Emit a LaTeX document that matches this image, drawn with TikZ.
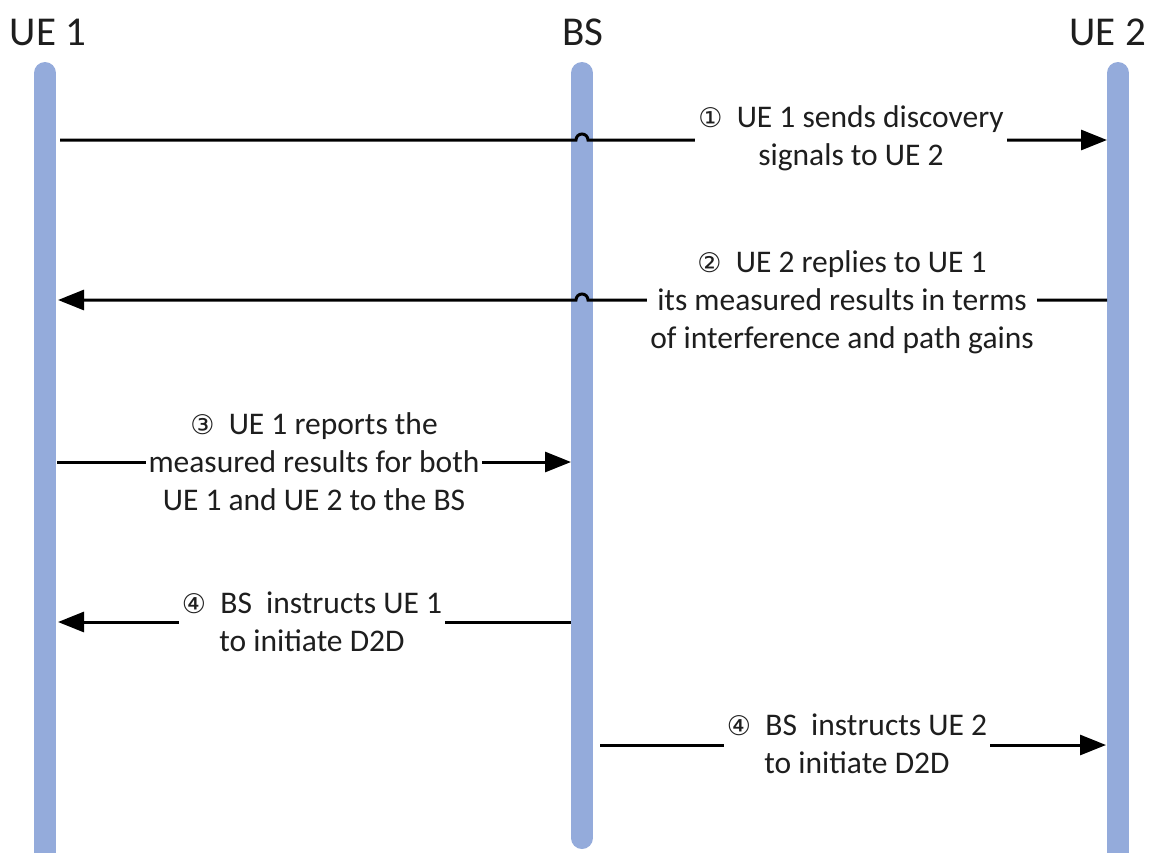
\documentclass[tikz,border=0pt]{standalone}
\usepackage{fontspec}
\setmainfont{Carlito}
\newfontfamily\symf{DejaVu Sans}
\usetikzlibrary{arrows.meta,calc}
\definecolor{life}{RGB}{148,171,219}
\definecolor{txt}{RGB}{30,30,30}
\newcommand{\cnum}[1]{{\symf\fontsize{27}{27}\selectfont #1}}
\begin{document}
\begin{tikzpicture}[x=1pt,y=-1pt,
  lifeline/.style={line width=22pt,life,line cap=round},
  head/.style={font=\fontsize{41}{43}\selectfont,text=txt,inner sep=0pt},
  msg/.style={line width=3pt,black,-{Triangle[length=26pt,width=20pt]}},
  lbl/.style={font=\fontsize{31.5}{38}\selectfont,text=txt,fill=white,align=center,inner sep=0pt,inner xsep=3pt}]
\useasboundingbox (0,0) rectangle (1151,852);
\begin{scope}
\clip (0,0) rectangle (1151,852);
% lifelines
\coordinate (l1t) at (45,73); \coordinate (l1b) at (45,870);
\coordinate (lbt) at (582,73); \coordinate (lbb) at (582,838);
\coordinate (l2t) at (1118,73); \coordinate (l2b) at (1118,870);
\draw[lifeline] (l1t) -- (l1b);
\draw[lifeline] (lbt) -- (lbb);
\draw[lifeline] (l2t) -- (l2b);
\end{scope}
% headers
\node[head] (h1) at (48,32) {UE 1};
\node[head] (hb) at (583,32) {BS};
\node[head,anchor=east] (h2) at (1146,32) {UE 2};
% message endpoints
\coordinate (m1s) at (60,140); \coordinate (m1h) at (582,140); \coordinate (m1e) at (1107,140);
\coordinate (m2s) at (1107,300); \coordinate (m2h) at (582,300); \coordinate (m2e) at (58,300);
\coordinate (m3s) at (57,462); \coordinate (m3e) at (571,462);
\coordinate (m4s) at (571,622); \coordinate (m4e) at (58,622);
\coordinate (m5s) at (600,745); \coordinate (m5e) at (1106,745);
% messages
\draw[msg] (m1s) -- ($(m1h)-(6,0)$) arc[start angle=180,end angle=0,radius=6pt] -- (m1e);
\draw[msg] (m2s) -- ($(m2h)+(6,0)$) arc[start angle=0,end angle=180,radius=6pt] -- (m2e);
\draw[msg] (m3s) -- (m3e);
\draw[msg] (m4s) -- (m4e);
\draw[msg] (m5s) -- (m5e);
% labels
\node[lbl] (t1) at (851,138) {\cnum{①}\ \ UE 1 sends discovery\\signals to UE 2};
\node[lbl] (t2) at (842,302) {\cnum{②}\ \ UE 2 replies to UE 1\\its measured results in terms\\of interference and path gains};
\node[lbl] (t3) at (314,462) {\cnum{③}\ \ UE 1 reports the\\measured results for both\\UE 1 and UE 2 to the BS};
\node[lbl] (t4) at (312,622) {\cnum{④}\ \ BS\ \ instructs UE 1\\to initiate D2D};
\node[lbl] (t5) at (857,744) {\cnum{④}\ \ BS\ \ instructs UE 2\\to initiate D2D};
\end{tikzpicture}
\end{document}
